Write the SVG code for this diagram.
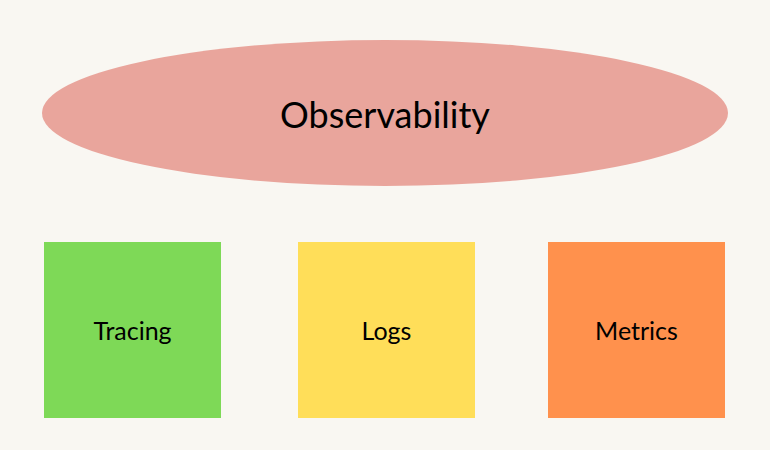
<svg xmlns="http://www.w3.org/2000/svg" width="770" height="450" viewBox="0 0 770 450">
<style>
text{font-family:Lato,"Open Sans",sans-serif;fill:#000;text-anchor:middle;dominant-baseline:central}
.t{font-size:36px}.s{font-size:25px}
</style>
<rect width="770" height="450" fill="#F9F7F2"/>
<g id="connectors"></g>
<g id="observability"><ellipse cx="385" cy="113" rx="343" ry="73" fill="#E9A59C"/><text class="t" x="385" y="114">Observability</text></g>
<g id="tracing"><rect x="44" y="242" width="177" height="176" fill="#7ED957"/><text class="s" x="132.5" y="330">Tracing</text></g>
<g id="logs"><rect x="298" y="242" width="177" height="176" fill="#FFDE59"/><text class="s" x="386.5" y="330">Logs</text></g>
<g id="metrics"><rect x="548" y="242" width="177" height="176" fill="#FF914D"/><text class="s" x="636.5" y="330">Metrics</text></g>
</svg>
